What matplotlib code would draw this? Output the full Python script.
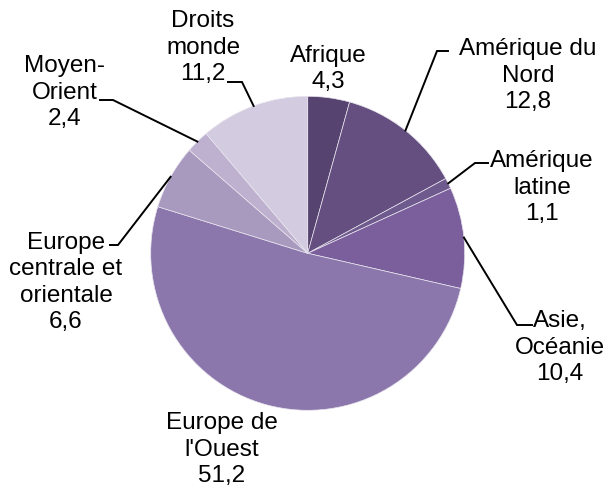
import numpy as np
import matplotlib
matplotlib.use("Agg")
import matplotlib.pyplot as plt

# Data (clockwise from 12 o'clock)
categories = [
    "Afrique",
    "Amérique du\nNord",
    "Amérique\nlatine",
    "Asie,\nOcéanie",
    "Europe de\nl'Ouest",
    "Europe\ncentrale et\norientale",
    "Moyen-\nOrient",
    "Droits\nmonde",
]
values = [4.3, 12.8, 1.1, 10.4, 51.2, 6.6, 2.4, 11.2]
value_labels = ["4,3", "12,8", "1,1", "10,4", "51,2", "6,6", "2,4", "11,2"]
colors = ["#574370", "#644f80", "#6f5a8e", "#7b5f9c", "#8c77ac",
          "#a899bf", "#bdb1cf", "#d3cbdf"]

# layout (pixel coordinates, y measured from the top)
W, H = 606, 488
center = (307.7, 253.3)
radius = 157
# label centre x, last-line baseline y, leader (elbow x, elbow y, end x)
label_pos = [
    (328, 88, None),
    (528, 108, (437, 51, 448)),
    (542, 220, (475, 163, 488)),
    (560, 380, (517, 325, 532)),
    (222, 482, None),
    (66, 328, (118, 245, 110)),
    (65, 125, (113, 100, 100)),
    (203, 80, (242, 82, 228)),
]

plt.rcParams["font.family"] = ["Liberation Sans", "DejaVu Sans"]

fig = plt.figure(figsize=(W / 100, H / 100), dpi=100)
ax = fig.add_axes([0, 0, 1, 1])

wedges, _ = ax.pie(
    values,
    colors=colors,
    startangle=90,
    counterclock=False,
    center=(center[0], H - center[1]),
    radius=radius,
    frame=True,
    wedgeprops={"edgecolor": "#e8e4ee", "linewidth": 0.5},
)
ax.set_xlim(0, W)
ax.set_ylim(0, H)
ax.set_aspect("equal")
ax.axis("off")

for w, cat, vl, (tx, ty, leader) in zip(wedges, categories, value_labels, label_pos):
    ax.text(tx, H - ty, f"{cat}\n{vl}", ha="center", va="baseline",
            multialignment="center", fontsize=17.5, linespacing=1.26,
            color="black")
    if leader is None:
        continue
    mid = np.radians((w.theta1 + w.theta2) / 2)
    ax_x = w.center[0] + w.r * np.cos(mid)
    ax_y = w.center[1] + w.r * np.sin(mid)
    ex, ey, hx = leader
    ax.plot([ax_x, ex, hx], [ax_y, H - ey, H - ey], color="black", lw=1.4,
            solid_joinstyle="miter")

fig.savefig("out.png", dpi=100)
